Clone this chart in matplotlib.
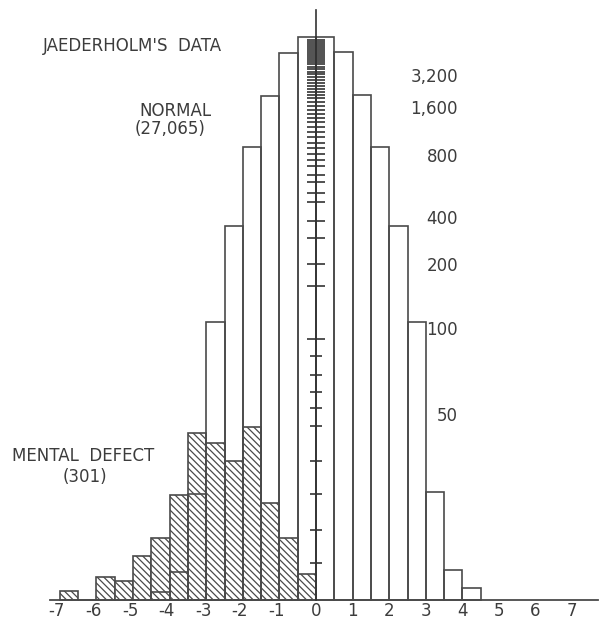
import matplotlib
matplotlib.use("Agg")
import matplotlib.pyplot as plt

# Données : hauteurs dans les unités de l'échelle dessinée (0 = ligne de base)
normal_bords = [-4.5, -4.0, -3.5, -3.0, -2.5, -2.0, -1.5, -1.0, -0.5,
                0.0, 0.5, 1.0, 1.5, 2.0, 2.5, 3.0, 3.5, 4.0]
normal_hauteurs = [8, 28, 106, 278, 374, 453, 504, 547, 563,
                   563, 548, 505, 453, 374, 278, 108, 30, 12]

defaut_bords = [-7.0, -6.5, -6.0, -5.5, -5.0, -4.5, -4.0,
                -3.5, -3.0, -2.5, -2.0, -1.5, -1.0, -0.5]
defaut_hauteurs = [9, 0, 23, 19, 44, 62, 105, 167, 157, 139, 173, 97, 62, 26]

# Étiquettes de l'échelle (effectifs) et leur hauteur sur l'axe
echelle_labels = ["3,200", "1,600", "800", "400", "200", "100", "50"]
echelle_hauteurs = [523, 491, 443, 381, 334, 270, 184]

# Graduations de l'axe central
graduations_courtes = [37, 70, 106, 139, 174, 192, 208, 225, 244]
graduations_longues = [261, 314, 336, 362, 379, 398, 407, 418, 425, 434, 440,
                       446, 452, 457, 463, 468, 473, 478, 482, 486, 490, 494,
                       498, 502, 505, 508, 511, 514, 517, 520, 523, 526, 528,
                       531, 533, 536, 538, 540, 542, 544, 546, 548, 550, 552,
                       554, 556, 558, 560]

x_labels = list(range(-7, 8))

trait = "#4a4a4a"
texte = "#3c3c3c"

plt.rcParams["hatch.linewidth"] = 0.9

fig = plt.figure(figsize=(5.99, 6.19), dpi=100)
ax = fig.add_axes([0, 0, 1, 1])
ax.set_xlim(-316 / 36.6, (599 - 316) / 36.6)
ax.set_ylim(-19, 600)
ax.axis("off")

# Barres hachurées (déficients) puis contours des normaux par-dessus
ax.bar(defaut_bords, defaut_hauteurs, width=0.5, align="edge",
       facecolor="white", edgecolor=trait, linewidth=1.2,
       hatch="\\\\\\\\\\", zorder=2)
ax.bar(normal_bords, normal_hauteurs, width=0.5, align="edge",
       fill=False, edgecolor=trait, linewidth=1.2, zorder=3)

# Ligne de base et axe central
ax.plot([-7.27, 7.7], [0, 0], color=trait, linewidth=1.3, zorder=4)
ax.plot([0, 0], [0, 590], color="#333333", linewidth=1.2, zorder=4)
ax.hlines(graduations_courtes, -0.16, 0.16, color="#333333", linewidth=1.2, zorder=4)
ax.hlines(graduations_longues, -0.25, 0.25, color="#333333", linewidth=1.2, zorder=4)

# Étiquettes de l'axe x
for v in x_labels:
    decal = -0.08 if v < 0 else 0
    ax.text(v + decal, -11, str(v), ha="center", va="center",
            fontsize=12, color=texte)

# Étiquettes de l'échelle
for lab, h in zip(echelle_labels, echelle_hauteurs):
    ax.text(3.88, h, lab, ha="right", va="center", fontsize=12, color=texte)

ax.text(-7.46, 554, "JAEDERHOLM'S  DATA", ha="left", va="center", fontsize=12, color=texte)
ax.text(-3.85, 489.5, "NORMAL", ha="center", va="center", fontsize=12, color=texte)
ax.text(-3.99, 470.5, "(27,065)", ha="center", va="center", fontsize=12, color=texte)
ax.text(-8.31, 144, "MENTAL  DEFECT", ha="left", va="center", fontsize=12, color=texte)
ax.text(-6.31, 123, "(301)", ha="center", va="center", fontsize=12, color=texte)

fig.savefig("out.png", dpi=100)
